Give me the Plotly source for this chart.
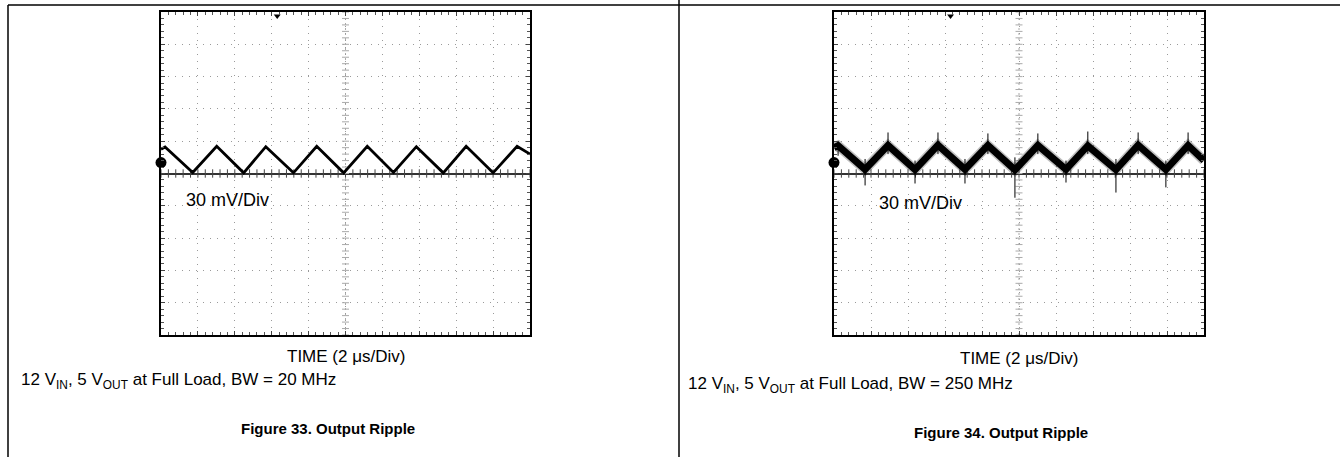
import plotly.graph_objects as go

W, H = 1340, 457

# waveform vertices (x in divisions 0..10, y in divisions -5..5)
left_x = [0.0, 0.11, 0.86, 1.51, 2.24, 2.84, 3.59, 4.22, 4.95, 5.59, 6.30, 6.92, 7.65, 8.27, 9.00, 9.65, 10.0]
left_y = [0.75, 0.82, 0.03, 0.84, 0.02, 0.83, 0.02, 0.84, 0.02, 0.84, 0.03, 0.83, 0.02, 0.84, 0.02, 0.84, 0.60]

right_x = [0.0, 0.11, 0.84, 1.46, 2.19, 2.81, 3.54, 4.16, 4.89, 5.51, 6.27, 6.86, 7.62, 8.22, 8.97, 9.57, 10.0]
right_y = [0.80, 0.86, 0.13, 0.87, 0.12, 0.88, 0.13, 0.87, 0.11, 0.87, 0.13, 0.86, 0.12, 0.88, 0.12, 0.87, 0.40]

# switching spikes on the 250 MHz trace
spike_x = [0.84, 2.19, 3.54, 4.89, 6.27, 7.62, 8.97, 0.11, 1.46, 2.81, 4.16, 5.51, 6.86, 8.22, 9.57]
spike_lo = [-0.37, -0.31, -0.31, -0.75, -0.28, -0.59, -0.43, 0.55, 0.60, 0.60, 0.60, 0.60, 0.60, 0.60, 0.60]
spike_hi = [0.45, 0.40, 0.45, 0.50, 0.40, 0.45, 0.40, 1.00, 1.27, 1.27, 1.24, 1.24, 1.30, 1.27, 1.27]

FONT = 'Liberation Sans, Arial, sans-serif'


def px(x):
    return x / W


def py(y):
    return 1 - y / H


def scope_axes(fig, n, x0, x1):
    """Graticule for one scope screen (pixel box x0..x1, y 12..335)."""
    common = dict(
        showline=True, mirror='ticks', linecolor='black', linewidth=2,
        ticks='inside', ticklen=4, tickcolor='#444', tickwidth=1,
        showticklabels=False, dtick=1, fixedrange=True,
        showgrid=True, gridcolor='#9a9a9a', gridwidth=1, griddash='1px,6px',
        minor=dict(dtick=0.2, ticks='inside', ticklen=3, tickcolor='#555', showgrid=False),
    )
    sfx = '' if n == 1 else str(n)
    fig.update_layout({
        'xaxis' + sfx: dict(common, range=[0, 10], domain=[px(x0), px(x1)],
                            anchor='y' + sfx, zeroline=False),
        'yaxis' + sfx: dict(common, range=[-5, 5], domain=[py(335), py(12)],
                            anchor='x' + sfx, zeroline=True, zerolinecolor='#333',
                            zerolinewidth=1.5),
    })
    xr, yr = 'x' + sfx, 'y' + sfx
    fig.add_shape(type='line', xref=xr, yref=yr, x0=5, x1=5, y0=-5, y1=5,
                  line=dict(color='#aaa', width=1, dash='2px,3px'), layer='below')
    ticks = [i * 0.2 for i in range(51)]
    fig.add_trace(go.Scatter(x=ticks, y=[0] * 51, mode='markers', xaxis=xr, yaxis=yr,
                             marker=dict(symbol='line-ns', size=6, line=dict(color='#444', width=1)),
                             hoverinfo='skip', showlegend=False))
    fig.add_trace(go.Scatter(x=[5] * 51, y=[t - 5 for t in ticks], mode='markers', xaxis=xr, yaxis=yr,
                             marker=dict(symbol='line-ew', size=5, line=dict(color='#aaa', width=1)),
                             hoverinfo='skip', showlegend=False))
    # ground marker and trigger marker
    fig.add_trace(go.Scatter(x=[0], y=[0.34], mode='markers', xaxis=xr, yaxis=yr, cliponaxis=False,
                             marker=dict(symbol='circle', size=11, color='black'),
                             hoverinfo='skip', showlegend=False))
    fig.add_trace(go.Scatter(x=[3.15], y=[4.88], mode='markers', xaxis=xr, yaxis=yr, cliponaxis=False,
                             marker=dict(symbol='triangle-down', size=6, color='black'),
                             hoverinfo='skip', showlegend=False))


fig = go.Figure()
scope_axes(fig, 1, 161, 530)
scope_axes(fig, 2, 834, 1204)

fig.add_trace(go.Scatter(x=left_x, y=left_y, mode='lines', xaxis='x', yaxis='y',
                         line=dict(color='black', width=2.8), hoverinfo='skip', showlegend=False))

sx, sy = [], []
for x, lo, hi in zip(spike_x, spike_lo, spike_hi):
    sx += [x, x, None]
    sy += [lo, hi, None]
fig.add_trace(go.Scatter(x=sx, y=sy, mode='lines', xaxis='x2', yaxis='y2',
                         line=dict(color='black', width=1), hoverinfo='skip', showlegend=False))
fig.add_trace(go.Scatter(x=right_x, y=right_y, mode='lines', xaxis='x2', yaxis='y2',
                         line=dict(color='rgba(0,0,0,0.25)', width=10), hoverinfo='skip', showlegend=False))
fig.add_trace(go.Scatter(x=right_x, y=right_y, mode='lines', xaxis='x2', yaxis='y2',
                         line=dict(color='black', width=7), hoverinfo='skip', showlegend=False))

# page frame lines
for x0, y0, x1, y1 in [(8, 5, W, 5), (8, 5, 8, H), (679, 0, 679, H)]:
    fig.add_shape(type='line', xref='paper', yref='paper', x0=px(x0), x1=px(x1),
                  y0=py(y0), y1=py(y1), line=dict(color='black', width=1.5))

texts = [
    (184, 200, '30 mV/Div', 'left', 18, False),
    (877, 203, '30 mV/Div', 'left', 18, False),
    (346, 356, 'TIME (2 μs/Div)', 'center', 17, False),
    (1019, 358, 'TIME (2 μs/Div)', 'center', 17, False),
    (19, 381, '12 V<sub>IN</sub>, 5 V<sub>OUT</sub> at Full Load, BW = 20 MHz', 'left', 17, False),
    (686, 385, '12 V<sub>IN</sub>, 5 V<sub>OUT</sub> at Full Load, BW = 250 MHz', 'left', 17, False),
    (328, 428, 'Figure 33. Output Ripple', 'center', 15, True),
    (1001, 432, 'Figure 34. Output Ripple', 'center', 15, True),
]
for x, y, t, anchor, size, bold in texts:
    fig.add_annotation(x=px(x), y=py(y), xref='paper', yref='paper', text=f'<b>{t}</b>' if bold else t,
                       showarrow=False, xanchor=anchor, yanchor='middle',
                       font=dict(family=FONT, size=size, color='black'))

fig.update_layout(
    width=W, height=H,
    margin=dict(l=0, r=0, t=0, b=0),
    paper_bgcolor='white', plot_bgcolor='white',
    showlegend=False,
    font=dict(family=FONT),
)

# drop the default body margin so the figure sits at the page origin
fig.write_html('out.html', config={'displayModeBar': False},
               post_script="document.body.style.margin='0';")
